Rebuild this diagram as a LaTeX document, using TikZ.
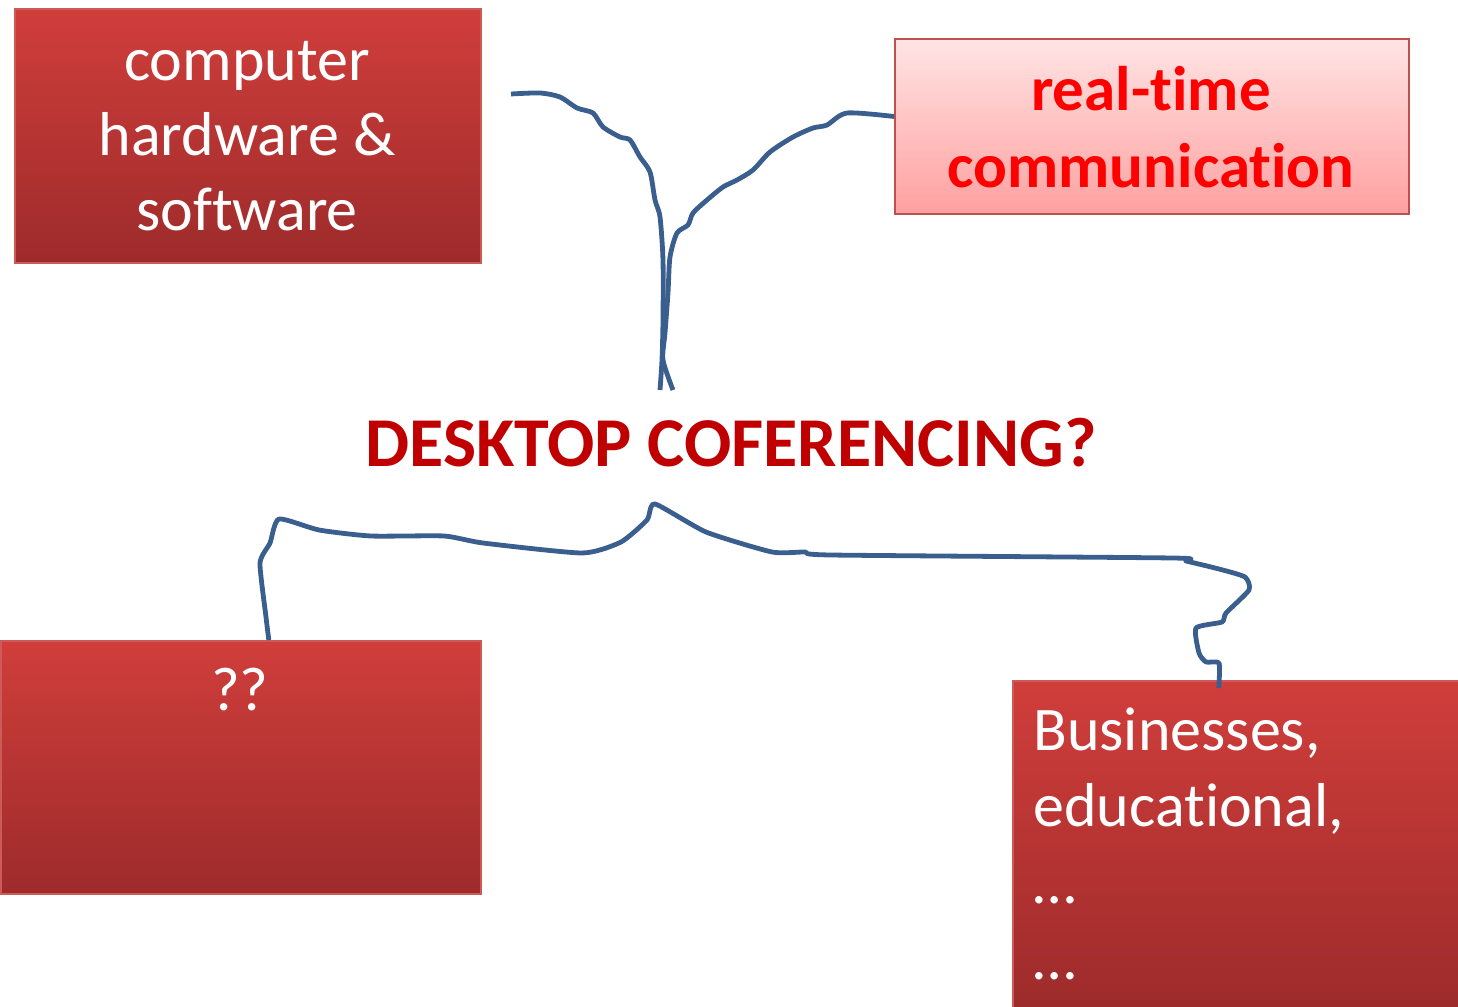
\documentclass[tikz,border=0pt]{standalone}
\usepackage{fontspec}
\setmainfont{Carlito}[Ligatures={NoCommon,NoRare,NoDiscretionary},Contextuals={NoAlternate}]
\definecolor{boxtop}{RGB}{208,62,59}
\definecolor{boxbot}{RGB}{157,43,43}
\definecolor{boxedge}{RGB}{205,90,86}
\definecolor{pinktop}{RGB}{255,228,228}
\definecolor{pinkbot}{RGB}{255,160,160}
\definecolor{pinkedge}{RGB}{192,80,77}
\definecolor{conncol}{RGB}{58,95,142}
\definecolor{titlecol}{RGB}{192,0,0}
\begin{document}
\begin{tikzpicture}[x=0.5pt,y=-0.5pt,
  redbox/.style={draw=boxedge, line width=0.8pt, top color=boxtop, bottom color=boxbot, anchor=north west, inner sep=0pt},
  pinkbox/.style={draw=pinkedge, line width=1pt, top color=pinktop, bottom color=pinkbot, anchor=north west, inner sep=0pt},
  whitetxt/.style={text=white, font=\fontsize{31}{37.5}\selectfont, inner sep=0pt},
  conn/.style={draw=conncol, line width=2.4pt, line join=round, line cap=butt}]
\useasboundingbox (0,0) rectangle (1458,1007);

% boxes
\node[redbox, minimum width=233pt, minimum height=127pt] (hw) at (14,8) {};
\node[whitetxt, align=center] (hwt) at (247,136) {computer\\hardware \&\\software};

\node[pinkbox, minimum width=257pt, minimum height=87.5pt] (rt) at (894,38) {};
\node[text={rgb,255:red,255;green,0;blue,0}, font=\bfseries\fontsize{31.5}{38.5}\selectfont, align=center, inner sep=0pt] (rtt) at (1151,127) {real-time\\communication};

\node[text=titlecol, font=\bfseries\fontsize{35}{42}\selectfont, inner sep=0pt, anchor=base] (title) at (731,466) {DESKTOP COFERENCING?};

\node[redbox, minimum width=240pt, minimum height=126.5pt] (q) at (0,640) {};
\node[whitetxt, anchor=base] (qt) at (240,710) {??};

\node[redbox, minimum width=223pt, minimum height=163.5pt] (biz) at (1012,680) {};
\node[whitetxt, anchor=north west, align=left, font=\fontsize{31}{38.3}\selectfont] (bizt) at (1033,707) {Businesses,\\educational,\\…\\…};

% connector end points
\coordinate (s1) at (511,94);
\coordinate (m1) at (660,390);
\coordinate (s2) at ([yshift=5pt]rt.west);
\coordinate (m2) at (673,390);
\coordinate (s3) at ([xshift=14pt]q.north);
\coordinate (s4) at ([xshift=-8.5pt,yshift=-4pt]biz.north);

% connectors
\draw[conn] plot[smooth, tension=0.45] coordinates {(s1) (540,93) (560,97) (577,108) (593,113) (603,127) (620,137) (630,140) (640,157) (650,172) (655,200) (660,217) (663,260) (663,320) (662,360) (m1)};
\draw[conn] plot[smooth, tension=0.45] coordinates {(s2) (847,113) (827,125) (813,128) (793,137) (770,152) (753,170) (737,180) (723,187) (707,200) (693,213) (688,225) (677,233) (670,257) (668,293) (665,333) (663,360) (m2)};
\draw[conn] plot[smooth, tension=0.35] coordinates {(s3) (266,617) (260,563) (270,543) (279,519) (319,530) (371,536) (444,536) (483,543) (582,553) (621,542) (647,520) (655,504) (706,532) (772,552) (805,552) (831,555) (1173,558) (1186,561) (1219,569) (1245,577) (1249,590) (1226,613) (1222,622) (1196,628) (1199,653) (1206,662) (1219,663) (s4)};
\end{tikzpicture}
\end{document}
